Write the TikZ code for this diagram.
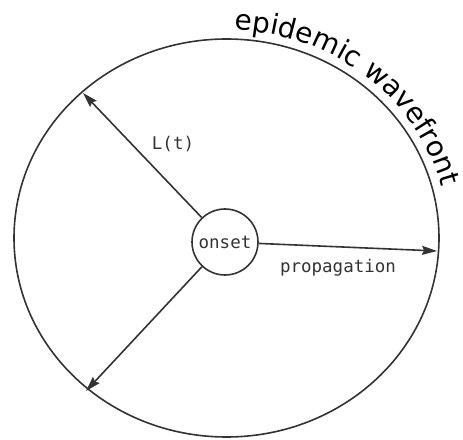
\documentclass[tikz,border=0pt]{standalone}
\usepackage{fontspec}
\setmainfont{DejaVu Sans}
\newfontfamily\monofam{DejaVu Sans Mono}
\newfontfamily\wavefam{DejaVu Sans}
\newcommand\wavefont{\wavefam\fontsize{28}{30}\selectfont}
\usetikzlibrary{arrows.meta,decorations.text,calc}
\definecolor{ink}{HTML}{333333}
\tikzset{
  stroke/.style={draw=ink, line width=1.6pt},
  arr/.style={stroke, -{Stealth[length=15pt,width=9pt,inset=2pt]}},
  monolabel/.style={font=\monofam\fontsize{17.5}{20}\selectfont, text=ink, inner sep=0pt},
  onsetnode/.style={stroke, circle, minimum size=66pt, inner sep=0pt, font=\monofam\fontsize{17.5}{20}\selectfont, text=ink}
}
\begin{document}
\begin{tikzpicture}[x=1pt,y=1pt]
  \useasboundingbox (0,0) rectangle (463,439);
  \coordinate (C) at (226.5,201);
  \draw[stroke] (C) ellipse [x radius=212.5, y radius=199];
  \node[onsetnode] (onset) at (225,197) {onset};
  \coordinate (A) at (83,346);
  \coordinate (B) at (86,48);
  \coordinate (R) at (437,188);
  \draw[arr] (onset) -- (A);
  \draw[arr] (onset) -- (B);
  \draw[arr] (onset) -- (R);
  \node[monolabel] (lt) at (173,294.5) {L(t)};
  \node[monolabel, anchor=base] (prop) at (338,166) {propagation};
  \path[decorate, decoration={text along path, text align=left,
      text={|\wavefont\color{black}|epidemic wavefront}}]
    ($(C)+(88:221.5 and 208)$) arc[start angle=88, end angle=0, x radius=221.5, y radius=208];
\end{tikzpicture}
\end{document}
